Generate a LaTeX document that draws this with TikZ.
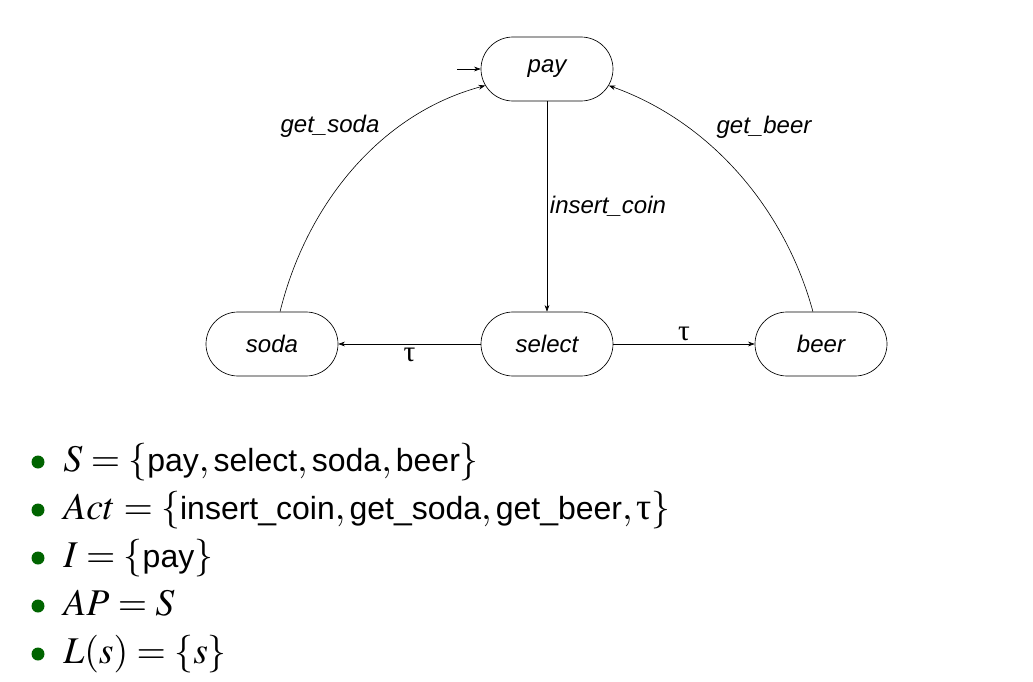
\documentclass[tikz,border=0pt]{standalone}
\usepackage{mathptmx}
\usepackage[no-math]{fontspec}
\setsansfont{Liberation Sans}
\newfontfamily\greekserif{Liberation Serif}
\usetikzlibrary{shapes.misc,arrows.meta}
\definecolor{bulletgreen}{RGB}{0,100,0}
\tikzset{
 state/.style={draw, rounded rectangle, minimum width=99pt, minimum height=48pt, inner sep=0pt, line width=0.5pt, font=\fontsize{18}{21}\selectfont\sffamily\itshape},
 trans/.style={-{Stealth[length=5pt,width=3.6pt]}, line width=0.45pt},
 elabel/.style={font=\fontsize{18}{21}\selectfont\sffamily\itshape, inner sep=2pt},
 taulabel/.style={font=\fontsize{22}{24}\selectfont\greekserif, inner sep=2.5pt},
 bul/.style={circle, fill=bulletgreen, inner sep=0pt, minimum size=9.75pt},
 item/.style={anchor=base west, inner sep=0pt, font=\fontsize{28.3}{34}\selectfont}
}
\newcommand{\sw}[1]{\mbox{\fontsize{24}{28}\selectfont\sffamily #1}}
\newcommand{\uptau}{\mbox{\fontsize{28.3}{34}\selectfont\greekserif τ}}
\begin{document}
\begin{tikzpicture}[x=0.75pt,y=-0.75pt]
\useasboundingbox (0,0) rectangle (1033,682);
\node[state] (pay) at (547,69) {pay};
\node[state] (select) at (547,344) {select};
\node[state] (soda) at (272,344) {soda};
\node[state] (beer) at (821,344) {beer};
\coordinate (init) at (457,69);
\draw[trans] (init) -- (pay.west);
\draw[trans] (pay.south) -- node[elabel, right] {insert\_coin} (select.north);
\draw[trans] (select.west) -- node[taulabel, below] {τ} (soda.east);
\draw[trans] (select.east) -- node[taulabel, above] {τ} (beer.west);
\draw[trans] (soda.76) .. controls (306,206) and (379,114) .. (pay.195);
\draw[trans] (beer.104) .. controls (785,209) and (711,122) .. (pay.345);
\node[elabel] (gs) at (330,126) {get\_soda};
\node[elabel] (gb) at (764,127) {get\_beer};
\node[bul] (b1) at (38,462) {};
\node[bul] (b2) at (38,510) {};
\node[bul] (b3) at (38,558) {};
\node[bul] (b4) at (38,606) {};
\node[bul] (b5) at (38,654) {};
\node[item] (t1) at (63,471) {$S=\{\sw{pay},\sw{select},\sw{soda},\sw{beer}\}$};
\node[item] (t2) at (63,519) {$Act=\{\sw{insert\_coin},\sw{get\_soda},\sw{get\_beer},\uptau\}$};
\node[item] (t3) at (63,567) {$I=\{\sw{pay}\}$};
\node[item] (t4) at (63,615) {$AP=S$};
\node[item] (t5) at (63,663) {$L(s)=\{s\}$};
\end{tikzpicture}
\end{document}
